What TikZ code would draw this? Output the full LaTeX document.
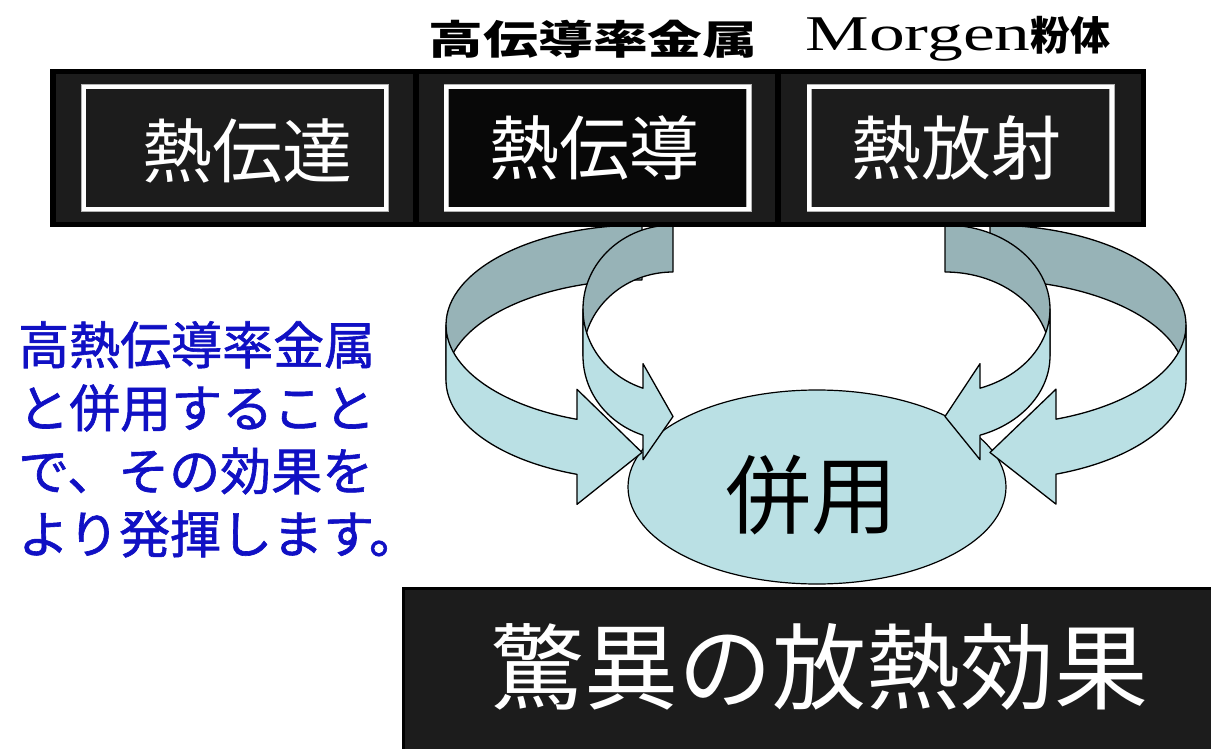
\documentclass[tikz,border=0pt]{standalone}
\usepackage{fontspec}
\setmainfont{Liberation Serif}
\newfontfamily\jp{Noto Sans CJK JP}
\newfontfamily\jpm[FakeBold=1.2]{Noto Sans CJK JP}
\usetikzlibrary{shapes.geometric}
\definecolor{bandgrey}{RGB}{28,28,28}
\definecolor{cellblack}{RGB}{8,8,8}
\definecolor{backc}{RGB}{151,179,183}
\definecolor{frontc}{RGB}{186,224,228}
\definecolor{bluetext}{RGB}{16,16,196}
\tikzset{
  backpart/.style={fill=backc, draw=black, line width=1.3pt, line join=round},
  frontpart/.style={fill=frontc, draw=black, line width=1.3pt, line join=round},
  cellrect/.style={fill=bandgrey, draw=black, line width=5.5pt},
  innerbox/.style={draw=gray!60, double=white, double distance=4pt, line width=0.7pt, inner sep=0pt, minimum width=302.6pt, minimum height=122.6pt},
  celltext/.style={text=white, inner sep=0pt, font=\jp\fontsize{70}{80}\selectfont},
}
\newcommand{\ribbonarrow}[5]{%
  \pgfmathsetmacro{\rw}{#1}%
  \pgfmathsetmacro{\rth}{#2}%
  \pgfmathsetmacro{\rhr}{#3}%
  \pgfmathsetmacro{\rah}{#4}%
  \pgfmathsetmacro{\raw}{#5}%
  \pgfmathsetmacro{\ralpha}{acos(\rah/\rw)}%
  \pgfmathsetmacro{\ryfive}{\rhr+\rhr*sin(\ralpha)}%
  \pgfmathsetmacro{\ryseven}{\ryfive+\rth}%
  \pgfmathsetmacro{\rdh}{(\raw-\rth)/2}%
  \pgfmathsetmacro{\ryfour}{\ryfive-\rdh}%
  \pgfmathsetmacro{\ryeight}{\ryseven+\rdh}%
  \pgfmathsetmacro{\rysix}{2*\rhr+(\rth+\raw)/2-\raw/2}%
  \pgfmathsetmacro{\rend}{180-\ralpha}%
  \filldraw[backpart] (0,0) arc[start angle=270,end angle=180,x radius=\rw,y radius=\rhr]
     -- ++(0,\rth) arc[start angle=180,end angle=270,x radius=\rw,y radius=\rhr] -- cycle;
  \filldraw[frontpart] (-\rw,\rhr) arc[start angle=180,end angle=\rend,x radius=\rw,y radius=\rhr]
     -- (-\rah,\ryfour) -- (0,\rysix) -- (-\rah,\ryeight) -- (-\rah,\ryseven)
     arc[start angle=\rend,end angle=180,x radius=\rw,y radius=\rhr] -- cycle;
}
\begin{document}
\begin{tikzpicture}[x=1pt,y=-1pt]
\useasboundingbox (0,0) rectangle (1211,749);
\fill[white] (0,0) rectangle (1211,749);

% central ellipse
\node[ellipse, draw=black, line width=1.2pt, fill=frontc, minimum width=378pt, minimum height=194pt, inner sep=0pt] (mix) at (817,487) {};

% curved ribbon arrows
\begin{scope}[shift={(990,225)}, xscale=-1]
  \ribbonarrow{196}{55}{100}{66}{115}
\end{scope}
\begin{scope}[shift={(945,225)}, xscale=-1]
  \ribbonarrow{105}{47}{84}{35}{96}
\end{scope}
\begin{scope}[shift={(642,225)}]
  \ribbonarrow{196}{55}{100}{65}{115}
\end{scope}
\begin{scope}[shift={(673,225)}]
  \ribbonarrow{90}{47}{84}{30}{96}
\end{scope}

% top band
\filldraw[cellrect] (52.75,71.75) rectangle (416,224.25);
\filldraw[cellrect] (416,71.75) rectangle (778,224.25);
\filldraw[cellrect] (778,71.75) rectangle (1143.25,224.25);
\node[innerbox, fill=bandgrey] (b1) at (235,148) {};
\node[innerbox, fill=cellblack] (b2) at (597.5,148) {};
\node[innerbox, fill=bandgrey] (b3) at (960.5,148) {};
\node[celltext] (t1) at (247,151) {熱伝達};
\node[celltext] (t2) at (594,148) {熱伝導};
\node[celltext] (t3) at (956,148) {熱放射};

% labels above
\node[inner sep=0pt] (lab1) at (593,39) {\jp\bfseries\fontsize{40}{44}\selectfont\scalebox{1.37}[1]{高伝導率金属}};
\node[inner sep=0pt] (lab2) at (958,39) {\fontsize{50}{54}\selectfont\scalebox{1.43}[1]{Morgen}\jp\bfseries\fontsize{40}{44}\selectfont 粉体};

% ellipse text
\node[inner sep=0pt, font=\jp\fontsize{86}{90}\selectfont] (mixt) at (811,495) {併用};

% bottom result box
\node[draw=black, line width=3pt, fill=bandgrey, minimum width=820pt, minimum height=170pt, anchor=north west, inner sep=0pt] (result) at (401.5,586.5) {};
\node[inner sep=0pt, text=white, font=\jp\fontsize{94}{100}\selectfont] (rt) at (819,667) {驚異の放熱効果};

% blue note
\node[anchor=north west, inner sep=0pt, align=left, text=bluetext, font=\jpm\fontsize{51}{63}\selectfont] (note) at (18,321) {高熱伝導率金属\\と併用すること\\で、その効果を\\より発揮します。};
\end{tikzpicture}
\end{document}
